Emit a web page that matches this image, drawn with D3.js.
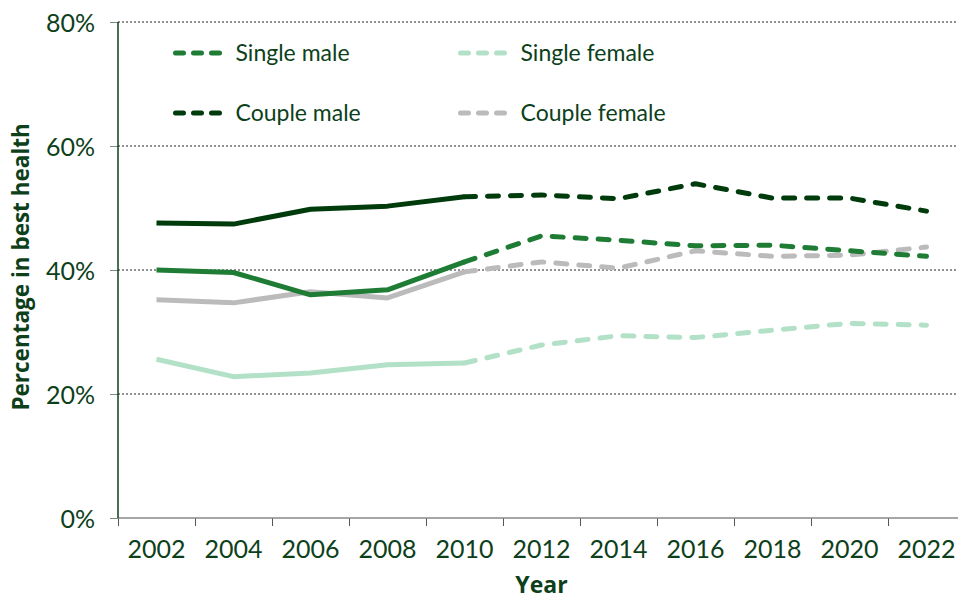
<!DOCTYPE html>
<html>
<head>
<meta charset="utf-8">
<script src="https://d3js.org/d3.v7.min.js"></script>
<style>
    body { margin: 0; background: #fff; }
    text { font-family: Lato, "Open Sans", sans-serif; fill: #0d3f1b; }
</style>
</head>
<body>
<svg id="chart" width="958" height="601"></svg>
<script>
/** Survey years (one point every two years)*/
var years = [2002, 2004, 2006, 2008, 2010, 2012, 2014, 2016, 2018, 2020, 2022];

/** Percentage in best health, per group*/
var singleMale   = [40.0, 39.6, 36.0, 36.8, 41.3, 45.5, 44.8, 43.9, 44.0, 43.1, 42.2];
var singleFemale = [25.6, 22.8, 23.4, 24.7, 25.0, 27.9, 29.4, 29.1, 30.3, 31.4, 31.1];
var coupleMale   = [47.6, 47.4, 49.8, 50.3, 51.8, 52.1, 51.5, 53.9, 51.6, 51.6, 49.5];
var coupleFemale = [35.2, 34.7, 36.5, 35.5, 39.7, 41.3, 40.3, 43.1, 42.2, 42.4, 43.7];

/** Lines are solid up to this year and dashed from it on*/
var dashedFrom = 2010;

/** Tick labels*/
var yTicks = [0, 20, 40, 60, 80];
var tickYears = [2001, 2003, 2005, 2007, 2009, 2011, 2013, 2015, 2017, 2019, 2021];

/** Series list used by lines and legend*/
var series = [
    {name: "Single male",   values: singleMale,   color: "#1e7c35"},
    {name: "Single female", values: singleFemale, color: "#b3e1c8"},
    {name: "Couple male",   values: coupleMale,   color: "#003b0c"},
    {name: "Couple female", values: coupleFemale, color: "#bbbbbb"}
];

/** Drawing order (back to front)*/
var drawOrder = ["Single female", "Couple female", "Single male", "Couple male"];

var svg = d3.select("#chart");

/** Scales*/
var xScale = d3.scaleLinear()
    .domain([2001, 2023])
    .range([118, 965]);

var yScale = d3.scaleLinear()
    .domain([0, 80])
    .range([518, 22]);

drawAxes();
drawLines();
drawLegend();

/**
 * Gridlines, axis lines, ticks and labels.
 */
function drawAxes()
{
    // dotted gridlines
    svg.append("g").selectAll("line")
        .data(yTicks.filter(function (d) { return d > 0; }))
        .enter().append("line")
        .attr("x1", xScale(2001)).attr("x2", 958)
        .attr("y1", function (d) { return yScale(d); })
        .attr("y2", function (d) { return yScale(d); })
        .attr("stroke", "#222")
        .attr("stroke-width", 1)
        .attr("stroke-dasharray", "2,2");

    // y ticks + labels
    var yAxis = d3.axisLeft(yScale)
        .tickValues(yTicks)
        .tickSize(8)
        .tickPadding(15)
        .tickFormat(function (d) { return d + "%"; });

    var gy = svg.append("g")
        .attr("transform", "translate(" + xScale(2001) + ",0)")
        .call(yAxis);
    gy.select(".domain").remove();
    gy.selectAll(".tick line").attr("stroke", "#7a8a7c");
    gy.selectAll(".tick text")
        .attr("font-size", 25)
        .attr("fill", "#0d3f1b")
        .attr("dy", "0.36em");

    // x axis: ticks between labelled years
    var xAxis = d3.axisBottom(xScale)
        .tickValues(tickYears)
        .tickSize(8)
        .tickFormat("");
    var gx = svg.append("g")
        .attr("transform", "translate(0," + yScale(0) + ")")
        .call(xAxis);
    gx.select(".domain").remove();
    gx.selectAll(".tick line").attr("stroke", "#555");

    svg.append("line")
        .attr("x1", xScale(2001)).attr("x2", 958)
        .attr("y1", yScale(0)).attr("y2", yScale(0))
        .attr("stroke", "#888").attr("stroke-width", 1.5);

    svg.append("line")
        .attr("x1", xScale(2001)).attr("x2", xScale(2001))
        .attr("y1", yScale(80)).attr("y2", yScale(0))
        .attr("stroke", "#0d3f1b").attr("stroke-width", 1.5);

    svg.append("g").selectAll("text")
        .data(years)
        .enter().append("text")
        .attr("x", function (d) { return xScale(d); })
        .attr("y", 558)
        .attr("text-anchor", "middle")
        .attr("font-size", 25)
        .text(function (d) { return d; });

    // axis titles (style, so the css font rule doesn't win)
    svg.append("text")
        .attr("x", xScale(2012))
        .attr("y", 593)
        .attr("text-anchor", "middle")
        .style("font-family", "'Open Sans', sans-serif")
        .attr("font-size", 23)
        .attr("font-weight", "bold")
        .text("Year");

    svg.append("text")
        .attr("transform", "translate(29," + yScale(40.5) + ") rotate(-90)")
        .attr("text-anchor", "middle")
        .style("font-family", "'Open Sans', sans-serif")
        .attr("font-size", 22.5)
        .attr("font-weight", "bold")
        .text("Percentage in best health");
}

/**
 * Each series: solid part then dashed part.
 */
function drawLines()
{
    var line = d3.line()
        .x(function (d) { return xScale(d.year); })
        .y(function (d) { return yScale(d.value); });

    var g = svg.append("g");

    drawOrder.forEach(function (name) {
        var s = series.find(function (d) { return d.name === name; });
        var pts = years.map(function (y, i) { return {year: y, value: s.values[i]}; });

        g.append("path")
            .datum(pts.filter(function (d) { return d.year <= dashedFrom; }))
            .attr("d", line)
            .attr("fill", "none")
            .attr("stroke", s.color)
            .attr("stroke-width", 5)
            .attr("stroke-linejoin", "round");

        g.append("path")
            .datum(pts.filter(function (d) { return d.year >= dashedFrom; }))
            .attr("d", line)
            .attr("fill", "none")
            .attr("stroke", s.color)
            .attr("stroke-width", 5)
            .attr("stroke-linecap", "round")
            .attr("stroke-linejoin", "round")
            .attr("stroke-dasharray", "11,12");
    });
}

/**
 * Two-column legend at the top of the plot.
 */
function drawLegend()
{
    var cols = [175.5, 460.5],
        rows = [53, 113];

    var items = svg.append("g").selectAll("g")
        .data(series)
        .enter().append("g")
        .attr("transform", function (d, i) {
            return "translate(" + cols[i % 2] + "," + rows[Math.floor(i / 2)] + ")";
        });

    items.append("line")
        .attr("x1", 0).attr("x2", 44)
        .attr("stroke", function (d) { return d.color; })
        .attr("stroke-width", 5)
        .attr("stroke-linecap", "round")
        .attr("stroke-dasharray", "8,10");

    items.append("text")
        .attr("x", 60)
        .attr("dy", "0.36em")
        .attr("font-size", 23)
        .text(function (d) { return d.name; });
}
</script>
</body>
</html>
